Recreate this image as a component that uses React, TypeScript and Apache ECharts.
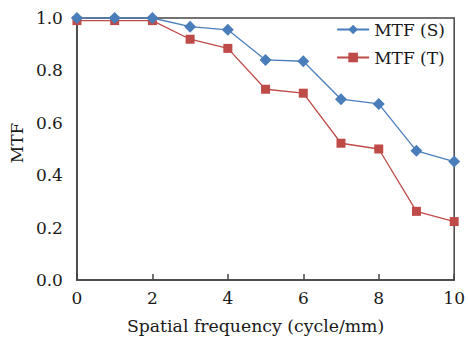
import React, { useEffect, useRef } from "react";
import * as echarts from "echarts";

const frequencies = [0, 1, 2, 3, 4, 5, 6, 7, 8, 9, 10];
const mtfS = [1.0, 1.0, 1.0, 0.967, 0.955, 0.84, 0.835, 0.69, 0.672, 0.493, 0.452];
const mtfT = [0.99, 0.99, 0.99, 0.919, 0.884, 0.728, 0.713, 0.522, 0.5, 0.262, 0.223];
const seriesNames = ["MTF (S)", "MTF (T)"];
const xAxisTitle = "Spatial frequency (cycle/mm)";
const yAxisTitle = "MTF";

const FONT = "DejaVu Serif";
const AXIS_COLOR = "#444444";

export default function App() {
  const ref = useRef<HTMLDivElement>(null);
  useEffect(() => {
    if (!ref.current) return;
    const chart = echarts.init(ref.current, null, { renderer: "svg" });
    chart.setOption({
      animation: false,
      textStyle: { fontFamily: FONT, color: "#1a1a1a" },
      grid: {
        left: 76,
        right: 11,
        top: 18,
        bottom: 63,
        show: true,
        borderColor: AXIS_COLOR,
        borderWidth: 1.5,
        backgroundColor: "transparent",
      },
      legend: {
        orient: "vertical",
        right: 18,
        top: 16,
        itemWidth: 32,
        itemHeight: 12,
        itemGap: 11,
        textStyle: { fontFamily: FONT, fontSize: 17, color: "#1a1a1a" },
        data: seriesNames,
      },
      xAxis: {
        type: "value",
        min: 0,
        max: 10,
        interval: 2,
        name: xAxisTitle,
        nameLocation: "middle",
        nameGap: 37,
        nameTextStyle: { fontFamily: FONT, fontSize: 17.3, color: "#1a1a1a", padding: [0, 20, 0, 0] },
        axisLine: { show: true, lineStyle: { color: AXIS_COLOR, width: 1.5 } },
        axisTick: { show: true, inside: true, length: 6, lineStyle: { color: AXIS_COLOR, width: 1.5 } },
        axisLabel: { fontFamily: FONT, fontSize: 17, color: "#1a1a1a", margin: 9 },
        splitLine: { show: false },
      },
      yAxis: {
        type: "value",
        min: 0,
        max: 1,
        interval: 0.2,
        name: yAxisTitle,
        nameLocation: "middle",
        nameGap: 48,
        nameRotate: 90,
        nameTextStyle: { fontFamily: FONT, fontSize: 17, color: "#1a1a1a", padding: [0, 0, 0, 12] },
        axisLine: { show: true, lineStyle: { color: AXIS_COLOR, width: 1.5 } },
        axisTick: { show: false },
        axisLabel: {
          fontFamily: FONT,
          fontSize: 17,
          color: "#1a1a1a",
          margin: 14,
          formatter: (v: number) => v.toFixed(1),
        },
        splitLine: { show: false },
      },
      series: [
        {
          name: seriesNames[0],
          type: "line",
          data: frequencies.map((f, i) => [f, mtfS[i]]),
          symbol: "diamond",
          symbolSize: 12,
          itemStyle: { color: "#4a7ebb" },
          lineStyle: { color: "#4a7ebb", width: 1.3 },
          z: 3,
        },
        {
          name: seriesNames[1],
          type: "line",
          data: frequencies.map((f, i) => [f, mtfT[i]]),
          symbol: "rect",
          symbolSize: 9,
          itemStyle: { color: "#be4b48" },
          lineStyle: { color: "#be4b48", width: 1.3 },
          z: 2,
        },
      ],
    });
    return () => chart.dispose();
  }, []);
  return <div ref={ref} style={{ width: 468, height: 343, position: "absolute", left: 0, top: 0 }} />;
}
